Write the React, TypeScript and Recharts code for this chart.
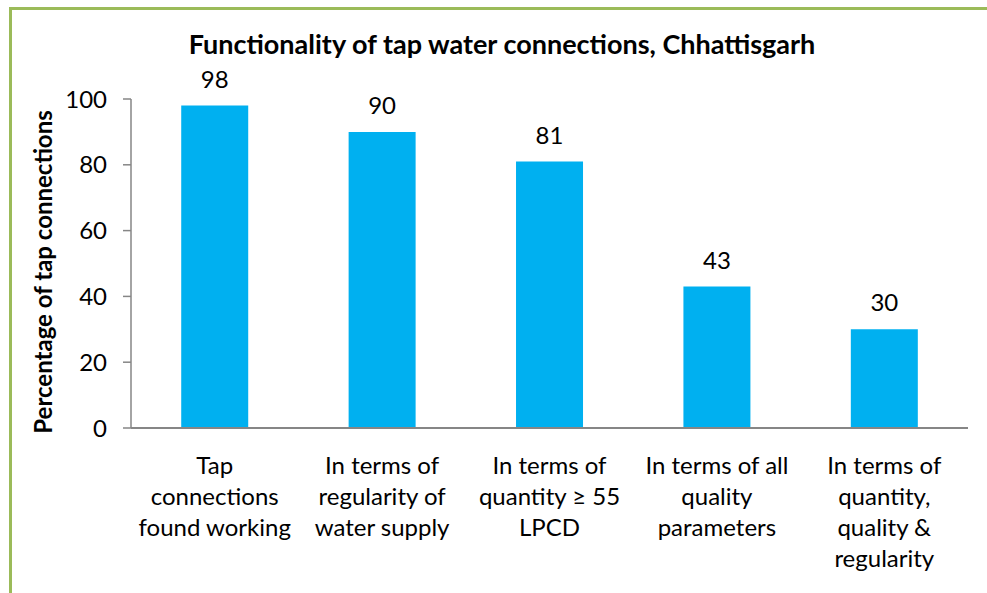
import React from "react";
import { BarChart, Bar, XAxis, YAxis, LabelList } from "recharts";

const categories = [
  "Tap connections found working",
  "In terms of regularity of water supply",
  "In terms of quantity ≥ 55 LPCD",
  "In terms of all quality parameters",
  "In terms of quantity, quality & regularity",
];
const categoryLines: string[][] = [
  ["Tap", "connections", "found working"],
  ["In terms of", "regularity of", "water supply"],
  ["In terms of", "quantity ≥ 55", "LPCD"],
  ["In terms of all", "quality", "parameters"],
  ["In terms of", "quantity,", "quality &", "regularity"],
];
const values = [98, 90, 81, 43, 30];
const yTicks = [0, 20, 40, 60, 80, 100];

const data = categories.map((c, i) => ({ name: c, value: values[i], idx: i }));

const FONT = "Lato, 'Open Sans', sans-serif";

const XTick = (props: any) => {
  const { x, y, payload } = props;
  const lines = categoryLines[payload.index] || [payload.value];
  return (
    <text x={x} y={y} textAnchor="middle" fill="#000" fontSize={24} fontFamily={FONT}>
      {lines.map((l, i) => (
        <tspan key={i} x={x} y={y + 38 + i * 31}>
          {l}
        </tspan>
      ))}
    </text>
  );
};

export default function App() {
  return (
    <div style={{ position: "absolute", left: 0, top: 0, width: 987, height: 593, overflow: "hidden", background: "#fff" }}>
      <div
        style={{
          position: "absolute",
          left: 9,
          top: 7,
          width: 1000,
          height: 700,
          borderLeft: "3px solid #9BBB59",
          borderTop: "3px solid #9BBB59",
        }}
      />
      <div style={{ position: "absolute", left: 0, top: 0 }}>
        <BarChart
          width={987}
          height={593}
          data={data}
          margin={{ top: 99, right: 19, bottom: 0, left: 71 }}
          barCategoryGap="30%"
        >
          <text x={502} y={54} textAnchor="middle" fontSize={27} fontWeight="bold" fontFamily={FONT} fill="#000">
            Functionality of tap water connections, Chhattisgarh
          </text>
          <text
            x={52}
            y={272}
            transform="rotate(-90 52 272)"
            textAnchor="middle"
            fontSize={24}
            fontWeight="bold"
            fontFamily={FONT}
            fill="#000"
          >
            Percentage of tap connections
          </text>
          <XAxis
            dataKey="name"
            tickLine={false}
            axisLine={{ stroke: "#868686", strokeWidth: 2 }}
            tick={<XTick />}
            interval={0}
            height={165}
          />
          <YAxis
            width={60}
            domain={[0, 100]}
            ticks={yTicks}
            tickSize={8}
            tickMargin={16}
            axisLine={{ stroke: "#868686", strokeWidth: 1.5 }}
            tickLine={{ stroke: "#868686", strokeWidth: 1.5 }}
            tick={{ fill: "#000", fontSize: 24, fontFamily: FONT }}
          />
          <Bar dataKey="value" fill="#00B0F0" isAnimationActive={false}>
            <LabelList dataKey="value" position="top" offset={18} fill="#000" fontSize={24} fontFamily={FONT} />
          </Bar>
        </BarChart>
      </div>
    </div>
  );
}
